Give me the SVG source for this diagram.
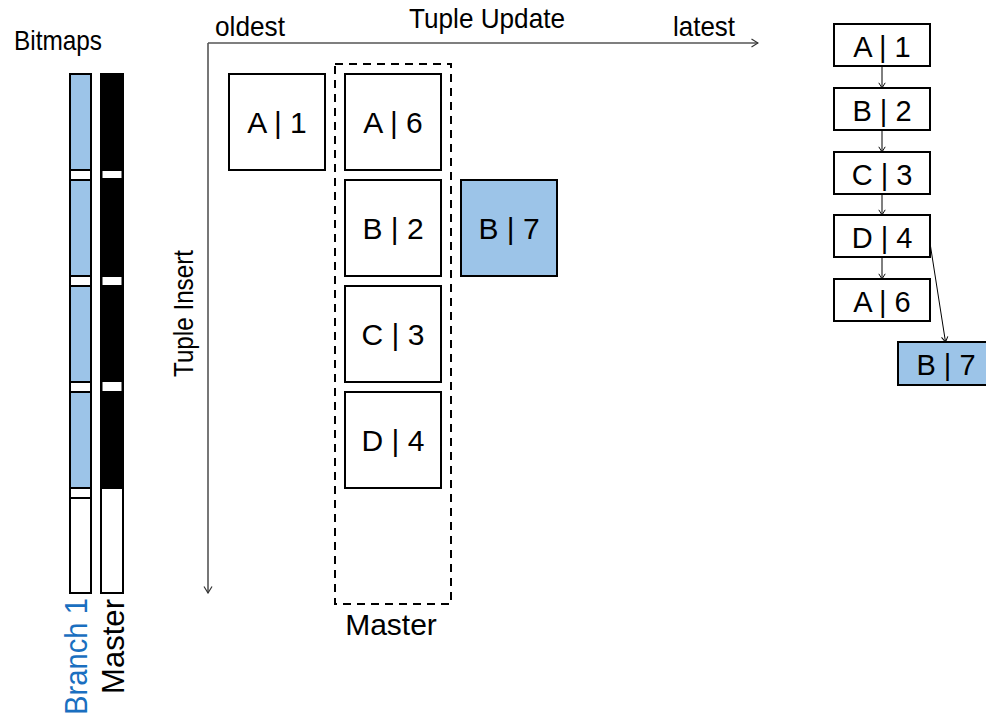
<svg xmlns="http://www.w3.org/2000/svg" width="986" height="718" viewBox="0 0 986 718">
  <style>
    text { font-family: "Liberation Sans", Arial, sans-serif; fill: #000; }
    .lbl { font-size: 28px; }
    .big { font-size: 30px; text-anchor: middle; }
    .small { font-size: 29px; text-anchor: middle; }
    .box { fill: #fff; stroke: #000; stroke-width: 2; }
    .hl { fill: #9cc4e8; stroke: #000; stroke-width: 2; }
    .axis { fill: none; stroke: #555; stroke-width: 1.6; }
    .link { fill: none; stroke: #000; stroke-width: 1; }
    .seg-b { fill: #9cc4e8; stroke: #000; stroke-width: 2; }
    .seg-w { fill: #fff; stroke: #000; stroke-width: 2; }
  </style>
  <defs>
    <marker id="head" viewBox="0 0 8 10" refX="7.5" refY="5" markerWidth="8" markerHeight="10" markerUnits="userSpaceOnUse" orient="auto">
      <path d="M1,1 L7.5,5 L1,9" fill="none" stroke="#333" stroke-width="1.2"/>
    </marker>
    <marker id="headS" viewBox="0 0 8 10" refX="7.5" refY="5" markerWidth="7" markerHeight="8" markerUnits="userSpaceOnUse" orient="auto">
      <path d="M1,1 L7.5,5 L1,9" fill="none" stroke="#000" stroke-width="1.2"/>
    </marker>
  </defs>

  <!-- bitmap columns -->
  <g id="bitmaps">
    <text class="lbl" x="14" y="50" textLength="88" lengthAdjust="spacingAndGlyphs">Bitmaps</text>
    <g id="bitmap-branch1">
      <rect class="seg-b" x="70" y="74" width="21" height="96"/>
      <rect class="seg-w" x="70" y="170" width="21" height="10"/>
      <rect class="seg-b" x="70" y="180" width="21" height="96"/>
      <rect class="seg-w" x="70" y="276" width="21" height="10"/>
      <rect class="seg-b" x="70" y="286" width="21" height="96"/>
      <rect class="seg-w" x="70" y="382" width="21" height="10"/>
      <rect class="seg-b" x="70" y="392" width="21" height="96"/>
      <rect class="seg-w" x="70" y="488" width="21" height="10"/>
      <rect class="seg-w" x="70" y="498" width="21" height="95"/>
    </g>
    <g id="bitmap-master">
      <rect x="101" y="74" width="22" height="519" fill="#000" stroke="#000" stroke-width="2"/>
      <rect x="102.5" y="171" width="19" height="7" fill="#fff"/>
      <rect x="102.5" y="277" width="19" height="8" fill="#fff"/>
      <rect x="102.5" y="382" width="19" height="9" fill="#fff"/>
      <rect class="seg-w" x="101" y="488" width="22" height="105"/>
    </g>
    <text transform="translate(87,715) rotate(-90)" style="font-size:31px; fill:#1a6fc0" textLength="117" lengthAdjust="spacingAndGlyphs">Branch 1</text>
    <text transform="translate(124,694) rotate(-90)" style="font-size:31px" textLength="95" lengthAdjust="spacingAndGlyphs">Master</text>
  </g>

  <!-- axes -->
  <g id="axes">
    <text class="lbl" x="215" y="36" textLength="70" lengthAdjust="spacingAndGlyphs">oldest</text>
    <text class="lbl" x="409" y="28" textLength="156" lengthAdjust="spacingAndGlyphs">Tuple Update</text>
    <text class="lbl" x="673" y="36" textLength="62" lengthAdjust="spacingAndGlyphs">latest</text>
    <text class="lbl" transform="translate(193,377) rotate(-90)" textLength="127" lengthAdjust="spacingAndGlyphs">Tuple Insert</text>
  </g>

  <!-- connectors -->
  <g id="connectors">
    <path class="axis" d="M208,43 H758" marker-end="url(#head)"/>
    <path class="axis" d="M208,43 V593" marker-end="url(#head)"/>
    <path class="link" d="M882,66 V88" marker-end="url(#headS)"/>
    <path class="link" d="M882,130 V152" marker-end="url(#headS)"/>
    <path class="link" d="M882,194 V215" marker-end="url(#headS)"/>
    <path class="link" d="M882,257 V279" marker-end="url(#headS)"/>
    <path class="link" d="M930,243 L945.5,342" marker-end="url(#headS)"/>
  </g>

  <!-- tuple versions grid -->
  <g id="t-a1">
    <rect class="box" x="229" y="74" width="96" height="96"/>
    <text class="big" x="277" y="133">A | 1</text>
  </g>
  <g id="master-group">
    <rect x="335" y="64" width="116" height="540" fill="none" stroke="#000" stroke-width="2" stroke-dasharray="8,6"/>
    <text class="big" x="391" y="635">Master</text>
  </g>
  <g id="t-a6">
    <rect class="box" x="345" y="74" width="96" height="96"/>
    <text class="big" x="393" y="133">A | 6</text>
  </g>
  <g id="t-b2">
    <rect class="box" x="345" y="180" width="96" height="96"/>
    <text class="big" x="393" y="239">B | 2</text>
  </g>
  <g id="t-c3">
    <rect class="box" x="345" y="286" width="96" height="96"/>
    <text class="big" x="393" y="345">C | 3</text>
  </g>
  <g id="t-d4">
    <rect class="box" x="345" y="392" width="96" height="96"/>
    <text class="big" x="393" y="451">D | 4</text>
  </g>
  <g id="t-b7">
    <rect class="hl" x="461" y="180" width="96" height="96"/>
    <text class="big" x="509" y="239">B | 7</text>
  </g>

  <!-- version chain -->
  <g id="c-a1">
    <rect class="box" x="834" y="24" width="96" height="42"/>
    <text class="small" x="882" y="57">A | 1</text>
  </g>
  <g id="c-b2">
    <rect class="box" x="834" y="88" width="96" height="42"/>
    <text class="small" x="882" y="121">B | 2</text>
  </g>
  <g id="c-c3">
    <rect class="box" x="834" y="152" width="96" height="42"/>
    <text class="small" x="882" y="185">C | 3</text>
  </g>
  <g id="c-d4">
    <rect class="box" x="834" y="215" width="96" height="42"/>
    <text class="small" x="882" y="248">D | 4</text>
  </g>
  <g id="c-a6">
    <rect class="box" x="834" y="279" width="96" height="42"/>
    <text class="small" x="882" y="312">A | 6</text>
  </g>
  <g id="c-b7">
    <rect class="hl" x="898" y="342" width="96" height="43"/>
    <text class="small" x="946" y="375">B | 7</text>
  </g>
</svg>
